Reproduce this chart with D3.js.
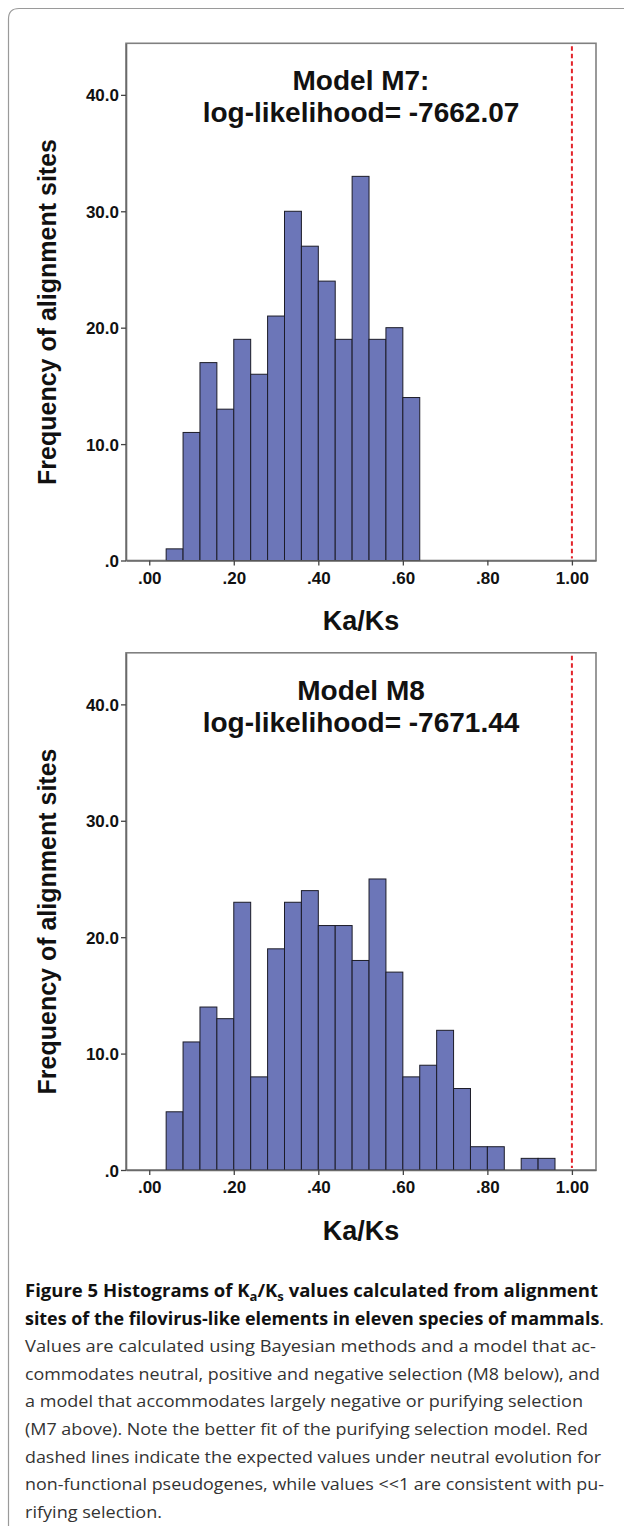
<!DOCTYPE html>
<html>
<head>
<meta charset="utf-8">
<script src="https://cdn.jsdelivr.net/npm/d3@7"></script>
<style>
  html, body { margin: 0; padding: 0; background: #fff; }
  svg { display: block; }
</style>
</head>
<body>
<main></main>
<script>
const width = 624;
const height = 1526;

// histogram bins (lower edge of each Ka/Ks bin) and counts
const binWidth = 0.04;
const m7Bins = [0.04, 0.08, 0.12, 0.16, 0.20, 0.24, 0.28, 0.32, 0.36, 0.40, 0.44, 0.48, 0.52, 0.56, 0.60];
const m7Counts = [1, 11, 17, 13, 19, 16, 21, 30, 27, 24, 19, 33, 19, 20, 14];
const m8Bins = [0.04, 0.08, 0.12, 0.16, 0.20, 0.24, 0.28, 0.32, 0.36, 0.40, 0.44, 0.48,
                0.52, 0.56, 0.60, 0.64, 0.68, 0.72, 0.76, 0.80, 0.84, 0.88, 0.92];
const m8Counts = [5, 11, 14, 13, 23, 8, 19, 23, 24, 21, 21, 18, 25, 17, 8, 9, 12, 7, 2, 2, 0, 1, 1];

const xTicks = [0, 0.2, 0.4, 0.6, 0.8, 1.0];
const xTickLabels = ['.00', '.20', '.40', '.60', '.80', '1.00'];
const yTicks = [0, 10, 20, 30, 40];
const yTickLabels = ['.0', '10.0', '20.0', '30.0', '40.0'];
const neutralValue = 1.0;

const m7Title = ['Model M7:', 'log-likelihood= -7662.07'];
const m8Title = ['Model M8', 'log-likelihood= -7671.44'];
const xTitle = 'Ka/Ks';
const yTitle = 'Frequency of alignment sites';

const captionBody = [
    'Values are calculated using Bayesian methods and a model that ac-',
    'commodates neutral, positive and negative selection (M8 below), and',
    'a model that accommodates largely negative or purifying selection',
    '(M7 above). Note the better fit of the purifying selection model. Red',
    'dashed lines indicate the expected values under neutral evolution for',
    'non-functional pseudogenes, while values <<1 are consistent with pu-',
    'rifying selection.'
];

// layout
const frame = {left: 126, right: 596, top: 43.3, bottom: 560.5};
const panelOffsets = [0, 609.5];
const chartFont = '"Liberation Sans", Arial, Helvetica, sans-serif';
const captionFont = '"Open Sans", Lato, sans-serif';

const createCanvas = () => {
    return d3.select('main')
             .append('svg')
             .attr('width', width)
             .attr('height', height);
};

const createCard = (svg) => {
    svg.append('path')
       .attr('d', 'M8.5 1526 V19 Q8.5 8.5 19 8.5 H624')
       .attr('fill', 'none')
       .attr('stroke', '#9a9a9a')
       .attr('stroke-width', 1.2);
};

const defineScales = () => {
    const xScale = d3.scaleLinear().domain([-0.055, 1.057])
                                   .range([frame.left, frame.right]);
    const yScale = d3.scaleLinear().domain([0, 44.43])
                                   .range([frame.bottom, frame.top]);
    return {xScale, yScale};
};

const createPanel = (svg, scales, bins, counts, title, dy) => {
    const g = svg.append('g').attr('transform', 'translate(0,' + dy + ')');
    const {xScale, yScale} = scales;

    // plot frame
    g.append('rect')
     .attr('x', frame.left)
     .attr('y', frame.top)
     .attr('width', frame.right - frame.left)
     .attr('height', frame.bottom - frame.top)
     .attr('fill', 'none')
     .attr('stroke', '#808080')
     .attr('stroke-width', 1.6);

    // bars
    const data = bins.map((b, i) => ({x0: b, x1: b + binWidth, n: counts[i]}))
                     .filter(d => d.n > 0);
    g.selectAll('rect.bar')
     .data(data)
     .enter()
     .append('rect')
     .attr('class', 'bar')
     .attr('x', d => xScale(d.x0))
     .attr('y', d => yScale(d.n))
     .attr('width', d => xScale(d.x1) - xScale(d.x0))
     .attr('height', d => yScale(0) - yScale(d.n))
     .attr('fill', '#6c76b8')
     .attr('stroke', '#1c1c28')
     .attr('stroke-width', 1);

    // axes
    const xAxis = d3.axisBottom(xScale)
                    .tickValues(xTicks)
                    .tickSize(5)
                    .tickSizeOuter(0)
                    .tickPadding(6)
                    .tickFormat((d, i) => xTickLabels[i]);
    const yAxis = d3.axisLeft(yScale)
                    .tickValues(yTicks)
                    .tickSize(5)
                    .tickSizeOuter(0)
                    .tickPadding(2)
                    .tickFormat((d, i) => yTickLabels[i]);

    const gx = g.append('g')
                .attr('transform', 'translate(0,' + frame.bottom + ')')
                .call(xAxis);
    const gy = g.append('g')
                .attr('transform', 'translate(' + frame.left + ',0)')
                .call(yAxis);

    [gx, gy].forEach(ax => {
        ax.select('.domain').attr('stroke', '#6a6a6a').attr('stroke-width', 1.6);
        ax.selectAll('.tick line').attr('stroke', '#444').attr('stroke-width', 1.3);
        ax.selectAll('.tick text')
          .attr('fill', '#111')
          .style('font-family', chartFont)
          .style('font-weight', 'bold')
          .style('font-size', '17px');
    });
    gy.selectAll('.tick text').attr('dy', '0.36em');

    // neutral expectation line
    g.append('line')
     .attr('x1', xScale(neutralValue))
     .attr('x2', xScale(neutralValue))
     .attr('y1', frame.top + 3)
     .attr('y2', frame.bottom - 2)
     .attr('stroke', '#e3242b')
     .attr('stroke-width', 2)
     .attr('stroke-dasharray', '4.5,3');

    // in-plot title
    const cx = (frame.left + frame.right) / 2;
    g.selectAll('text.ptitle')
     .data(title)
     .enter()
     .append('text')
     .attr('class', 'ptitle')
     .attr('x', cx)
     .attr('y', (d, i) => 90 + i * 32)
     .attr('text-anchor', 'middle')
     .style('font-family', chartFont)
     .style('font-weight', 'bold')
     .style('font-size', '28px')
     .attr('fill', '#111')
     .text(d => d);

    // axis titles
    g.append('text')
     .attr('x', cx)
     .attr('y', 630)
     .attr('text-anchor', 'middle')
     .style('font-family', chartFont)
     .style('font-weight', 'bold')
     .style('font-size', '27px')
     .attr('fill', '#111')
     .text(xTitle);

    g.append('text')
     .attr('transform', 'translate(56,' + 312 + ') rotate(-90)')
     .attr('text-anchor', 'middle')
     .style('font-family', chartFont)
     .style('font-weight', 'bold')
     .style('font-size', '25px')
     .attr('fill', '#111')
     .text(yTitle);
};

const createCaption = (svg) => {
    const left = 25;
    const top = 1297;
    const lh = 27.6;
    const size = '17px';

    const t1 = svg.append('text')
                  .attr('x', left).attr('y', top)
                  .attr('textLength', 573).attr('lengthAdjust', 'spacingAndGlyphs')
                  .style('font-family', captionFont).style('font-weight', 'bold')
                  .style('font-size', size).attr('fill', '#111');
    t1.append('tspan').text('Figure 5 Histograms of K');
    t1.append('tspan').attr('dy', 4).style('font-size', '12px').text('a');
    t1.append('tspan').attr('dy', -4).text('/K');
    t1.append('tspan').attr('dy', 4).style('font-size', '12px').text('s');
    t1.append('tspan').attr('dy', -4).text(' values calculated from alignment');

    const t2 = svg.append('text')
                  .attr('x', left).attr('y', top + lh)
                  .attr('textLength', 579).attr('lengthAdjust', 'spacingAndGlyphs')
                  .style('font-family', captionFont)
                  .style('font-size', size).attr('fill', '#111');
    t2.append('tspan').style('font-weight', 'bold')
      .text('sites of the filovirus-like elements in eleven species of mammals');
    t2.append('tspan').attr('fill', '#333').text('.');

    const widths = [571, 575, 558, 563, 576, 579, 137];
    svg.selectAll('text.body')
       .data(captionBody)
       .enter()
       .append('text')
       .attr('class', 'body')
       .attr('x', left)
       .attr('y', (d, i) => top + (i + 2) * lh)
       .attr('textLength', (d, i) => widths[i])
       .attr('lengthAdjust', 'spacingAndGlyphs')
       .style('font-family', captionFont)
       .style('font-size', size)
       .attr('fill', '#333')
       .text(d => d);
};

const driver = () => {
    const svg = createCanvas();
    createCard(svg);
    const scales = defineScales();
    createPanel(svg, scales, m7Bins, m7Counts, m7Title, panelOffsets[0]);
    createPanel(svg, scales, m8Bins, m8Counts, m8Title, panelOffsets[1]);
    createCaption(svg);
};

driver();
</script>
</body>
</html>
